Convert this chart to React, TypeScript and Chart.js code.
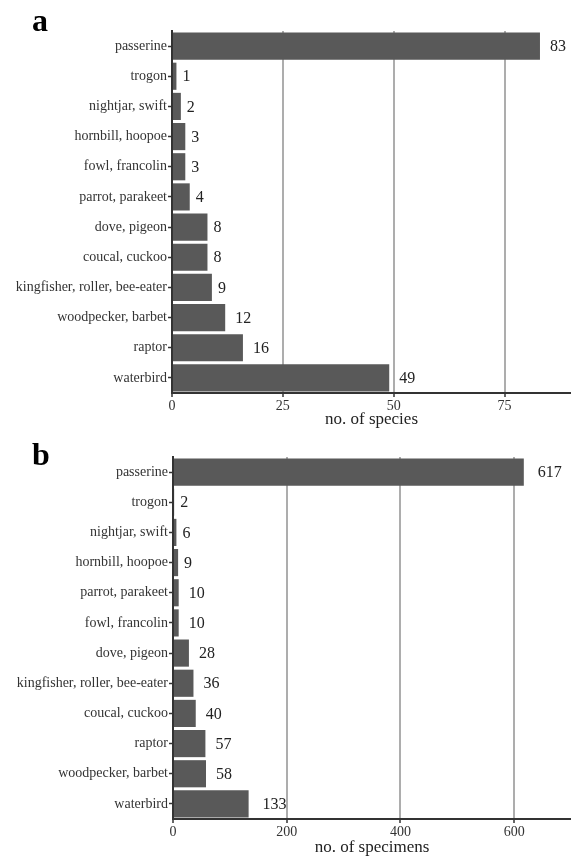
import React, { useEffect, useRef } from "react";
import { Chart, registerables } from "chart.js";

Chart.register(...registerables);

const CATEGORIES_A = [
  "passerine",
  "trogon",
  "nightjar, swift",
  "hornbill, hoopoe",
  "fowl, francolin",
  "parrot, parakeet",
  "dove, pigeon",
  "coucal, cuckoo",
  "kingfisher, roller, bee-eater",
  "woodpecker, barbet",
  "raptor",
  "waterbird",
];
const SPECIES = [83, 1, 2, 3, 3, 4, 8, 8, 9, 12, 16, 49];
const TICKS_A = [0, 25, 50, 75];

const CATEGORIES_B = [
  "passerine",
  "trogon",
  "nightjar, swift",
  "hornbill, hoopoe",
  "parrot, parakeet",
  "fowl, francolin",
  "dove, pigeon",
  "kingfisher, roller, bee-eater",
  "coucal, cuckoo",
  "raptor",
  "woodpecker, barbet",
  "waterbird",
];
const SPECIMENS = [617, 2, 6, 9, 10, 10, 28, 36, 40, 57, 58, 133];
const TICKS_B = [0, 200, 400, 600];

const FONT = "'Liberation Serif', 'Times New Roman', serif";

type PanelProps = {
  cats: string[];
  values: number[];
  max: number;
  ticks: number[];
  title: string;
  letter: string;
  letterY: number;
  top: number;
  height: number;
  padTop: number;
  axisLeft: number;
  axisBottom: number;
};

function Panel(p: PanelProps) {
  const ref = useRef<HTMLCanvasElement | null>(null);
  useEffect(() => {
    if (!ref.current) return;
    const labelPlugin = {
      id: "valueLabels",
      afterDatasetsDraw(chart: any) {
        const ctx = chart.ctx;
        const meta = chart.getDatasetMeta(0);
        ctx.save();
        ctx.font = `16px ${FONT}`;
        ctx.fillStyle = "#222";
        ctx.textAlign = "left";
        ctx.textBaseline = "middle";
        meta.data.forEach((bar: any, i: number) => {
          const txt = String(p.values[i]);
          const w = ctx.measureText(txt).width;
          ctx.fillText(txt, bar.x + 0.5 * w + 2, bar.y + 1);
        });
        ctx.font = `bold 32px ${FONT}`;
        ctx.fillStyle = "#000";
        ctx.textBaseline = "alphabetic";
        ctx.fillText(p.letter, 32, p.letterY);
        ctx.restore();
      },
    };
    const chart = new Chart(ref.current, {
      type: "bar",
      data: {
        labels: p.cats,
        datasets: [
          {
            data: p.values,
            backgroundColor: "#595959",
            borderWidth: 0,
            barPercentage: 0.9,
            categoryPercentage: 1,
          },
        ],
      },
      options: {
        indexAxis: "y",
        responsive: false,
        animation: false,
        layout: { padding: { top: p.padTop, left: 0, right: 0, bottom: 0 } },
        plugins: {
          legend: { display: false },
          tooltip: { enabled: false },
        },
        scales: {
          x: {
            type: "linear",
            min: 0,
            max: p.max,
            afterBuildTicks(scale: any) {
              scale.ticks = p.ticks.map((v) => ({ value: v }));
            },
            afterFit(scale: any) {
              scale.height = p.height - p.axisBottom;
            },
            grid: {
              color: "#adadad",
              lineWidth: 2,
              tickColor: "#333",
              tickLength: 4,
              tickWidth: 1.5,
            },
            border: { color: "#333", width: 2 },
            ticks: {
              font: { family: FONT, size: 14 },
              color: "#333",
              padding: 1,
              maxRotation: 0,
            },
            title: {
              display: true,
              text: p.title,
              font: { family: FONT, size: 17, lineHeight: 1 },
              color: "#222",
              padding: { top: 0, bottom: 0 },
            },
          },
          y: {
            type: "category",
            offset: true,
            afterFit(scale: any) {
              scale.width = p.axisLeft;
            },
            grid: {
              offset: false,
              drawOnChartArea: false,
              tickColor: "#333",
              tickLength: 4,
              tickWidth: 1.5,
            },
            border: { color: "#333", width: 2 },
            ticks: {
              font: { family: FONT, size: 14 },
              color: "#333",
              padding: 1,
              autoSkip: false,
            },
          },
        },
      },
      plugins: [labelPlugin],
    } as any);
    return () => chart.destroy();
  }, []);
  return (
    <canvas
      ref={ref}
      width={571}
      height={p.height}
      style={{ position: "absolute", left: 0, top: p.top, width: 571, height: p.height }}
    />
  );
}

export default function App() {
  return (
    <div style={{ position: "absolute", left: 0, top: 0, width: 571, height: 856, overflow: "hidden", background: "#fff" }}>
      <Panel
        cats={CATEGORIES_A}
        values={SPECIES}
        max={90}
        ticks={TICKS_A}
        title="no. of species"
        letter="a"
        letterY={31}
        top={0}
        height={428}
        padTop={31}
        axisLeft={172}
        axisBottom={393}
      />
      <Panel
        cats={CATEGORIES_B}
        values={SPECIMENS}
        max={700}
        ticks={TICKS_B}
        title="no. of specimens"
        letter="b"
        letterY={37}
        top={428}
        height={428}
        padTop={29}
        axisLeft={173}
        axisBottom={391}
      />
    </div>
  );
}
